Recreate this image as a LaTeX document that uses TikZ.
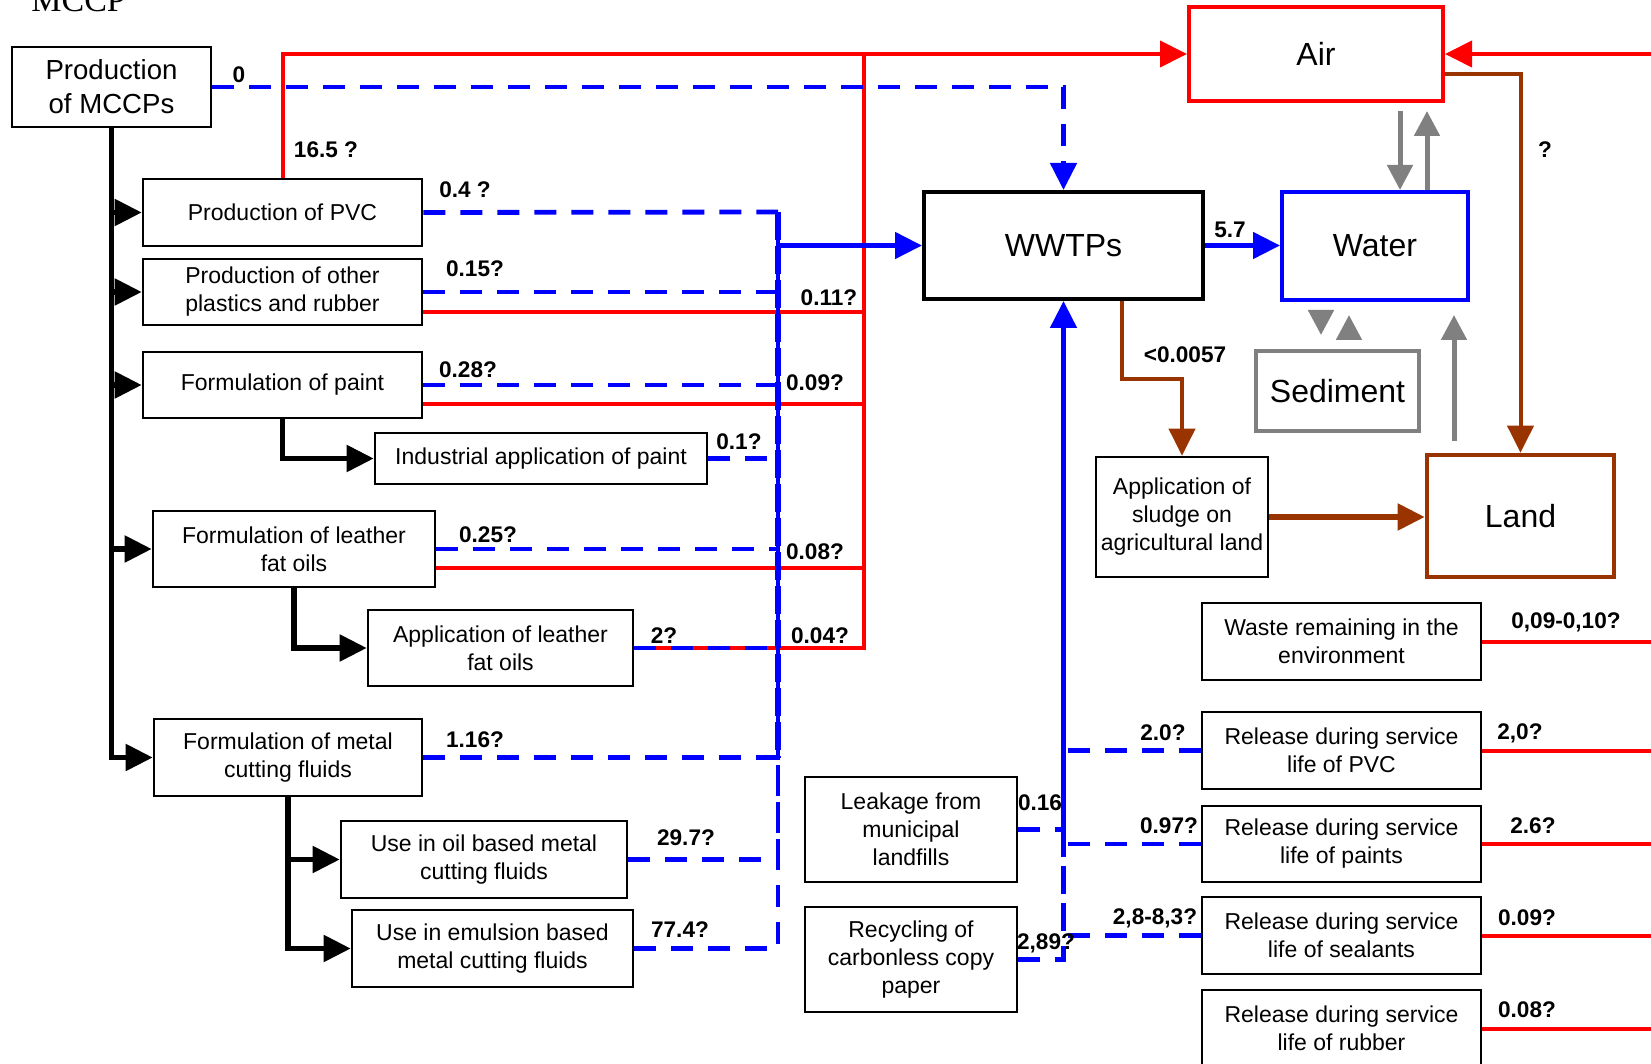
\documentclass[tikz,border=0pt]{standalone}
\usepackage{fontspec}
\setmainfont{Liberation Sans}
\newfontfamily\titlefont{Liberation Serif}
\usepackage{xcolor}
\usetikzlibrary{arrows.meta}
\usetikzlibrary{calc}

\definecolor{flowred}{HTML}{FF0000}
\definecolor{flowblue}{HTML}{0000FF}
\definecolor{flowbrown}{HTML}{993300}
\definecolor{flowgray}{HTML}{808080}

\tikzset{
  box/.style={draw,line width=1.3pt,inner sep=0pt,align=center,font=\fontsize{11.5}{14}\selectfont},
  bigbox/.style={box,line width=2pt,font=\fontsize{16}{19}\selectfont},
  lbl/.style={inner sep=0pt,font=\fontsize{11.3}{13}\selectfont\bfseries},
  flow/.style={line width=2.6pt,->},
  redline/.style={flowred,line width=2pt},
  redflow/.style={redline,->},
  bluedash/.style={flowblue,line width=2.4pt,dash pattern=on 11pt off 7.5pt},
  blueflow/.style={flowblue,line width=2.4pt,->},
  brownflow/.style={flowbrown,line width=2pt,->},
  grayflow/.style={flowgray,line width=2.5pt,-{Triangle[length=12.5pt,width=12.5pt]}}
}

\begin{document}
\begin{tikzpicture}[x=0.5pt,y=-0.5pt,>={Triangle[length=13.5pt,width=13pt]}]
  \useasboundingbox (0,0) rectangle (1651,1064);
  \clip (0,0) rectangle (1651,1064);

  \node[anchor=base west,inner sep=0pt,font=\titlefont\fontsize{17}{20}\selectfont] (title) at (31,12) {MCCP};

  \node[box,font=\fontsize{13.8}{17}\selectfont,minimum width=99.5pt,minimum height=40pt] (mccp) at (111.5,87) {Production\\of MCCPs};
  \node[box,minimum width=139.5pt,minimum height=33.5pt] (pvc) at (282.5,212.5) {Production of PVC};
  \node[box,minimum width=139.5pt,minimum height=33pt] (plast) at (282.5,292) {Production of other\\plastics and rubber};
  \node[box,minimum width=139.5pt,minimum height=33pt] (paint) at (282.5,385) {Formulation of paint};
  \node[box,minimum width=166pt,minimum height=25.5pt] (indpaint) at (541,458.5) {Industrial application of paint};
  \node[box,minimum width=141pt,minimum height=38pt] (leather) at (294,549) {Formulation of leather\\fat oils};
  \node[box,minimum width=132.5pt,minimum height=38pt] (appleather) at (500.5,648) {Application of leather\\fat oils};
  \node[box,minimum width=134pt,minimum height=38.5pt] (metal) at (288,757.5) {Formulation of metal\\cutting fluids};
  \node[box,minimum width=143pt,minimum height=38.5pt] (oil) at (484,859.5) {Use in oil based metal\\cutting fluids};
  \node[box,minimum width=140.5pt,minimum height=38.5pt] (emul) at (492.5,948.5) {Use in emulsion based\\metal cutting fluids};

  \node[bigbox,minimum width=139.5pt,minimum height=53.5pt] (wwtp) at (1063.5,245.5) {WWTPs};
  \node[bigbox,draw=flowred,minimum width=127pt,minimum height=47pt] (air) at (1316,54) {Air};
  \node[bigbox,draw=flowblue,minimum width=93pt,minimum height=54pt] (water) at (1375,246) {Water};
  \node[bigbox,draw=flowgray,minimum width=81.5pt,minimum height=40pt] (sed) at (1337.5,391) {Sediment};
  \node[bigbox,draw=flowbrown,line width=2.3pt,minimum width=93.5pt,minimum height=61pt] (land) at (1520.5,516) {Land};
  \node[box,minimum width=86pt,minimum height=60pt] (sludge) at (1182,517) {Application of\\sludge on\\agricultural land};

  \node[box,minimum width=139.5pt,minimum height=38.5pt] (waste) at (1341.5,641.5) {Waste remaining in the\\environment};
  \node[box,minimum width=139.5pt,minimum height=38.5pt] (relpvc) at (1341.5,750.5) {Release during service\\life of PVC};
  \node[box,minimum width=139.5pt,minimum height=38pt] (relpaint) at (1341.5,844) {Release during service\\life of paints};
  \node[box,minimum width=139.5pt,minimum height=38.5pt] (relseal) at (1341.5,935.5) {Release during service\\life of sealants};
  \node[box,minimum width=139.5pt,minimum height=38.5pt] (relrub) at (1341.5,1028.5) {Release during service\\life of rubber};
  \node[box,minimum width=106pt,minimum height=52.5pt] (leak) at (911,829.5) {Leakage from\\municipal\\landfills};
  \node[box,minimum width=106pt,minimum height=52.5pt] (recyc) at (911,959.5) {Recycling of\\carbonless copy\\paper};

  \coordinate (rtop) at (864,54);
  \coordinate (btop) at (778,212);
  \coordinate (bjoin) at (1063.5,857);
  \coordinate (edge) at (1660,0);

  \draw[flow] (mccp.south) |- (metal.west);
  \draw[flow] (mccp.south |- pvc.west) -- (pvc.west);
  \draw[flow] (mccp.south |- plast.west) -- (plast.west);
  \draw[flow] (mccp.south |- paint.west) -- (paint.west);
  \draw[flow] (mccp.south |- leather.west) -- (leather.west);
  \draw[flow] (paint.south) |- (indpaint.west);
  \draw[flow] (leather.south) |- (appleather.west);
  \draw[flow] (metal.south) |- (oil.west);
  \draw[flow] (metal.south) |- (emul.west);

  \draw[redflow] (pvc.north) |- (air.west);
  \draw[redline] ($(plast.east)+(0,20)$) -| (rtop);
  \draw[redline] ($(paint.east)+(0,19)$) -| (rtop);
  \draw[redline] ($(leather.east)+(0,19)$) -| (rtop);
  \draw[redline] (appleather.east) -| (rtop);
  \draw[redflow] (air.east -| edge) -- (air.east);
  \draw[redline] (waste.east) -- (waste.east -| edge);
  \draw[redline] (relpvc.east) -- (relpvc.east -| edge);
  \draw[redline] (relpaint.east) -- (relpaint.east -| edge);
  \draw[redline] (relseal.east) -- (relseal.east -| edge);
  \draw[redline] (relrub.east) -- (relrub.east -| edge);

  \draw[bluedash,->] (mccp.east) -| (wwtp.north);
  \draw[bluedash] (pvc.east) -- (btop);
  \draw[bluedash] (plast.east) -| (btop);
  \draw[bluedash] (paint.east) -| (btop);
  \draw[bluedash] (indpaint.east) -| (btop);
  \draw[bluedash] (leather.east) -| (btop);
  \draw[bluedash] (appleather.east) -| (btop);
  \draw[bluedash] (metal.east) -| (btop);
  \draw[bluedash] (oil.east) -| (btop);
  \draw[bluedash] (emul.east) -| (btop);
  \draw[bluedash,line width=3.2pt,dash pattern=on 14pt off 3pt] (btop) -- (btop |- metal.east);
  \draw[blueflow] (btop |- wwtp.west) -- (wwtp.west);
  \draw[blueflow] (wwtp.east) -- (wwtp.east -| water.west);

  \draw[bluedash] (relpvc.west) -| (bjoin);
  \draw[bluedash] (relpaint.west) -| (bjoin);
  \draw[bluedash] (relseal.west) -| (bjoin);
  \draw[bluedash] (leak.east) -| (bjoin);
  \draw[bluedash] (recyc.east) -| (bjoin);
  \draw[blueflow] (bjoin) -- (wwtp.south);

  \draw[brownflow] ($(air.east)+(0,20)$) -| (land.north);
  \draw[brownflow] ($(wwtp.south)+(58.5,0)$) |- ($(sludge.north)+(0,-77)$) -- (sludge.north);
  \draw[brownflow,line width=2.6pt] (sludge.east) -- (sludge.east -| land.west);

  \draw[grayflow] ($(water.north)+(25,-79)$) -- ($(water.north)+(25,0)$);
  \draw[grayflow] ($(water.north)+(52,0)$) -- ($(water.north)+(52,-79)$);
  \draw[grayflow] ($(water.south)+(-54,13)$) -- ($(sed.north)+(-16.5,-14)$);
  \draw[grayflow] ($(sed.north)+(11.5,-14)$) -- ($(water.south)+(-26,13)$);
  \draw[grayflow] ($(land.north)+(-66.5,-12)$) -- ($(water.south)+(79,13)$);

  \node[lbl] (lzero) at (239,75) {0};
  \node[lbl] (lpvcair) at (326,150) {16.5 ?};
  \node[lbl] (lpvc) at (465,190) {0.4 ?};
  \node[lbl] (lplast) at (475,269) {0.15?};
  \node[lbl] (lplastair) at (829,298) {0.11?};
  \node[lbl] (lpaint) at (468,370) {0.28?};
  \node[lbl] (lpaintair) at (815,383) {0.09?};
  \node[lbl] (lind) at (739,442) {0.1?};
  \node[lbl] (lleath) at (488,535) {0.25?};
  \node[lbl] (lleathair) at (815,552) {0.08?};
  \node[lbl] (lappl) at (664,636) {2?};
  \node[lbl] (lapplair) at (820,636) {0.04?};
  \node[lbl] (lmetal) at (475,740) {1.16?};
  \node[lbl] (loil) at (686,838) {29.7?};
  \node[lbl] (lemul) at (680,930) {77.4?};
  \node[lbl] (lwater) at (1230,230) {5.7};
  \node[lbl] (lland) at (1545,150) {?};
  \node[lbl] (lsludge) at (1185,355) {<0.0057};
  \node[lbl] (lrelpvc) at (1163,733) {2.0?};
  \node[lbl] (lrelpaint) at (1169,826) {0.97?};
  \node[lbl] (lrelseal) at (1155,918) {2,8-8,3?};
  \node[lbl] (lleak) at (1040,803) {0.16};
  \node[lbl] (lrecyc) at (1046,943) {2,89?};
  \node[lbl] (lwaste) at (1566,622) {0,09-0,10?};
  \node[lbl] (lpvcout) at (1520,733) {2,0?};
  \node[lbl] (lpaintout) at (1533,826) {2.6?};
  \node[lbl] (lsealout) at (1527,918) {0.09?};
  \node[lbl] (lrubout) at (1527,1010) {0.08?};
\end{tikzpicture}
\end{document}
